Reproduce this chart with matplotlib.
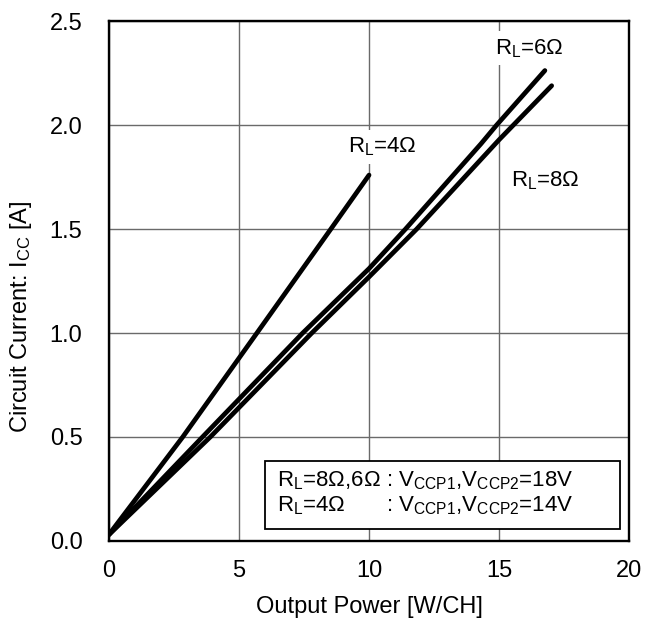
import matplotlib.pyplot as plt
from matplotlib.patches import Rectangle

plt.rcParams["font.family"] = ["Liberation Sans", "DejaVu Sans"]
plt.rcParams["mathtext.fontset"] = "custom"
plt.rcParams["mathtext.rm"] = "Liberation Sans"
plt.rcParams["mathtext.it"] = "Liberation Sans"

# Circuit current vs output power
p_4ohm = [0.0, 2.84, 5.69, 8.53, 10.0]
i_4ohm = [0.03, 0.50, 1.00, 1.50, 1.76]

p_6ohm = [0.0, 3.6, 7.45, 10.0, 11.4, 14.3, 14.9, 16.76]
i_6ohm = [0.03, 0.50, 1.00, 1.31, 1.50, 1.91, 2.00, 2.263]

p_8ohm = [0.0, 3.9, 7.8, 10.0, 11.83, 15.0, 17.02]
i_8ohm = [0.03, 0.50, 1.00, 1.27, 1.50, 1.93, 2.19]

x_ticks = [0, 5, 10, 15, 20]
y_ticks = [0.0, 0.5, 1.0, 1.5, 2.0, 2.5]

fig = plt.figure(figsize=(6.52, 6.26), dpi=100)
ax = fig.add_axes([0.167, 0.136, 0.798, 0.83])

for p, i in [(p_4ohm, i_4ohm), (p_6ohm, i_6ohm), (p_8ohm, i_8ohm)]:
    ax.plot(p, i, color="black", lw=3.4, solid_capstyle="round", zorder=3)

ax.set_xlim(0, 20)
ax.set_ylim(0, 2.5)
ax.set_xticks(x_ticks)
ax.set_yticks(y_ticks)
ax.set_xticklabels([str(v) for v in x_ticks])
ax.set_yticklabels([f"{v:.1f}" for v in y_ticks])
ax.tick_params(length=0, labelsize=17)
ax.tick_params(axis="x", pad=14)
ax.tick_params(axis="y", pad=19)
ax.grid(True, color="#6a6a6a", lw=1.0)
ax.set_axisbelow(True)
for s in ax.spines.values():
    s.set_linewidth(1.7)
    s.set_zorder(5)

ax.set_xlabel("Output Power [W/CH]", fontsize=17, labelpad=10)
ax.set_ylabel(r"Circuit Current: I$_\mathrm{CC}$ [A]", fontsize=17,
              labelpad=11, y=0.431)

# curve labels, white background breaks the grid lines like in the original
lbl = dict(fontsize=16, va="baseline", ha="left", zorder=4,
           bbox=dict(facecolor="white", edgecolor="none", pad=4))
ax.text(14.85, 2.343, r"R$_\mathrm{L}$=6Ω", **lbl)
ax.text(9.2, 1.867, r"R$_\mathrm{L}$=4Ω", **lbl)
ax.text(15.45, 1.707, r"R$_\mathrm{L}$=8Ω", **lbl)

# conditions box
ax.add_patch(Rectangle((6.0, 0.059), 13.65, 0.324, facecolor="white",
                       edgecolor="black", lw=1.3, zorder=4))
box_txt = dict(fontsize=16, va="baseline", ha="left", zorder=5)
ax.text(6.45, 0.263, r"R$_\mathrm{L}$=8Ω,6Ω", **box_txt)
ax.text(6.45, 0.143, r"R$_\mathrm{L}$=4Ω", **box_txt)
ax.text(10.64, 0.263, r": V$_\mathrm{CCP1}$,V$_\mathrm{CCP2}$=18V", **box_txt)
ax.text(10.64, 0.143, r": V$_\mathrm{CCP1}$,V$_\mathrm{CCP2}$=14V", **box_txt)

fig.savefig("out.png", dpi=100)
